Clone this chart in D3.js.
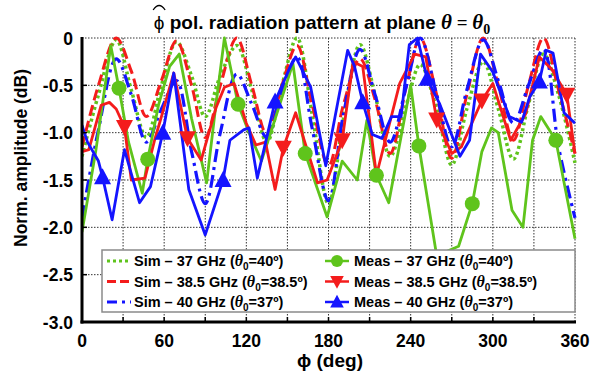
<!DOCTYPE html>
<html>
<head>
<meta charset="utf-8">
<script src="https://cdn.jsdelivr.net/npm/d3@7"></script>
<style>
  body { margin: 0; background: #fff; }
  svg { display: block; font-family: "Liberation Sans", Arial, sans-serif; font-weight: bold; }
</style>
</head>
<body>
<svg id="chart" width="595" height="373"></svg>
<script>
// ====== DATA ======
const xTicks = [0, 60, 120, 180, 240, 300, 360];
const yTicks = [0, -0.5, -1.0, -1.5, -2.0, -2.5, -3.0];

// simulated patterns (read at peaks, troughs and half-way points)
const simAngles = [0, 12, 25, 36, 47, 58, 69, 80, 90, 101, 113, 124, 135, 146, 157, 168, 180,
                   191, 203, 214, 225, 237, 247, 259, 270, 281, 293, 304, 315, 326, 337, 348, 360];
const sim37 = [-1.25, -0.6, -0.02, -0.55, -1.05, -0.5, -0.04, -0.4, -0.83, -0.4, -0.08, -0.55, -1.1, -0.5, 0, -0.8, -1.75,
               -0.85, -0.07, -0.6, -1.25, -0.7, -0.28, -0.75, -1.34, -0.75, -0.25, -0.75, -1.28, -0.7, -0.17, -0.6, -1.32];
const sim385 = [-1.15, -0.5, 0, -0.35, -0.83, -0.45, -0.03, -0.5, -1.05, -0.5, 0, -0.5, -1.02, -0.5, -0.08, -0.7, -1.35,
                -0.7, -0.22, -0.65, -1.22, -0.5, 0, -0.6, -1.27, -0.6, 0, -0.5, -1.08, -0.5, 0, -0.55, -1.22];
const sim40 = [-1.9, -0.97, -0.22, -0.6, -1.1, -0.75, -0.45, -1.2, -1.75, -1.0, -0.38, -0.7, -1.05, -0.55, -0.2, -0.95, -1.72,
               -0.8, -0.12, -0.6, -1.1, -0.5, 0, -0.6, -1.15, -0.55, -0.02, -0.45, -0.9, -0.5, -0.12, -1.15, -1.9];

// measured patterns
const meas37Angles = [0, 10, 21, 27, 34, 44, 48, 56, 64, 71, 80, 91, 97, 104, 114, 122, 131, 140, 154, 163, 179, 190,
                      201, 208, 215, 224, 240, 246, 259, 275, 285, 292, 299, 304, 314, 322, 329, 335, 346, 360];
const meas37 = [-2.05, -1.2, -0.08, -0.53, -1.1, -1.64, -1.28, -0.7, -0.3, -0.17, -0.85, -1.53, -0.8, 0, -0.7, -1.0, -1.3,
                -0.9, -0.27, -1.22, -1.89, -1.3, -1.5, -0.87, -1.45, -1.74, -0.5, -1.14, -2.3, -2.2, -1.75, -1.2, -0.95,
                -1.0, -1.82, -2.0, -1.08, -0.83, -1.08, -2.12];
const meas37Marks = [27, 48, 114, 163, 215, 246, 285, 346];

const meas385Angles = [0, 5, 14, 20, 25, 31, 36, 46, 53, 58, 67, 77, 87, 98, 104, 111, 120, 127, 134, 141, 147, 156, 172,
                       179, 190, 198, 205, 215, 232, 243, 251, 259, 270, 277, 292, 300, 313, 324, 334, 343, 354, 360];
const meas385 = [-1.2, -1.18, -0.71, -0.68, -0.75, -0.94, -1.5, -1.48, -1.08, -0.83, -0.37, -1.06, -1.29, -0.73, -0.52,
                 -0.48, -0.9, -1.13, -1.1, -1.6, -1.16, -0.79, -1.53, -1.5, -1.08, -0.25, -0.3, -1.45, -0.48, -0.17, -0.2,
                 -0.86, -1.22, -1.15, -0.66, -0.48, -1.08, -0.8, -0.2, -0.33, -0.6, -1.22];
const meas385Marks = [31, 77, 147, 190, 259, 292, 354];

const meas40Angles = [0, 4, 12, 15, 22, 31, 42, 50, 59, 67, 78, 90, 103, 108, 118, 122, 128, 141, 151, 156, 167, 178, 194,
                      199, 205, 212, 219, 226, 233, 239, 245, 252, 261, 276, 283, 291, 300, 312, 321, 327, 334, 339, 344, 352, 360];
const meas40 = [-0.92, -1.1, -1.3, -1.47, -1.92, -1.18, -1.74, -1.57, -1.0, -0.37, -1.6, -2.08, -1.5, -1.08, -0.97, -0.95,
                -1.48, -0.67, -0.34, -0.2, -0.52, -1.35, -0.13, -0.3, -0.68, -1.02, -1.06, -0.83, -0.83, -0.07, 0, -0.43,
                -0.69, -1.25, -1.08, -0.17, -0.36, -0.83, -0.89, -0.62, -0.46, -0.13, -0.16, -0.79, -0.9];
const meas40Marks = [15, 59, 103, 141, 205, 252, 334];

const GREEN = '#5fc41c', RED = '#f41c1c', BLUE = '#1414ff';

// ====== SETUP ======
const svg = d3.select('#chart');
const x = d3.scaleLinear().domain([0, 360]).range([82, 575]);
const y = d3.scaleLinear().domain([-3, 0]).range([322, 38]);

svg.append('defs').append('clipPath').attr('id', 'plot-clip')
  .append('rect').attr('x', 82).attr('y', 36).attr('width', 495).attr('height', 288);

// grid
const grid = svg.append('g');
grid.selectAll('.vg').data(d3.range(30, 361, 30)).enter().append('line')
  .attr('x1', d => x(d)).attr('x2', d => x(d)).attr('y1', y(0)).attr('y2', y(-3))
  .attr('stroke', '#333').attr('stroke-width', 1).attr('stroke-dasharray', '1.5,1.5');
grid.selectAll('.hg').data(yTicks.slice(0, -1)).enter().append('line')
  .attr('x1', x(0)).attr('x2', x(360)).attr('y1', d => y(d)).attr('y2', d => y(d))
  .attr('stroke', '#333').attr('stroke-width', 1).attr('stroke-dasharray', '1.5,1.5');

// ====== SERIES ======
const plot = svg.append('g').attr('clip-path', 'url(#plot-clip)');

function simLine(vals) {
  return d3.line().x((d, i) => x(simAngles[i])).y(d => y(d)).curve(d3.curveCatmullRom.alpha(0.5))(vals);
}
function measLine(angles, vals) {
  return d3.line().x((d, i) => x(angles[i])).y(d => y(d))(vals);
}

const series = [
  { d: simLine(sim37), color: GREEN, dash: '3,3', w: 3.5 },
  { d: simLine(sim385), color: RED, dash: '11,5', w: 3 },
  { d: simLine(sim40), color: BLUE, dash: '13,5,3,5', w: 3.2 },
  { d: measLine(meas37Angles, meas37), color: GREEN, dash: null, w: 2.8 },
  { d: measLine(meas385Angles, meas385), color: RED, dash: null, w: 2.8 },
  { d: measLine(meas40Angles, meas40), color: BLUE, dash: null, w: 2.8 }
];
series.forEach(s => {
  plot.append('path').attr('d', s.d).attr('fill', 'none')
    .attr('stroke', s.color).attr('stroke-width', s.w)
    .attr('stroke-dasharray', s.dash).attr('stroke-linejoin', 'round');
});

function marker(g, type, cx, cy, color) {
  if (type === 'circle') {
    g.append('circle').attr('cx', cx).attr('cy', cy).attr('r', 7.5).attr('fill', color);
  } else {
    const s = type === 'down' ? 1 : -1;
    const pts = [[cx - 8.5, cy - 7 * s], [cx + 8.5, cy - 7 * s], [cx, cy + 9 * s]];
    g.append('path').attr('d', 'M' + pts.join('L') + 'Z').attr('fill', color);
  }
}
function marks(angles, vals, list, type, color) {
  list.forEach(a => {
    const i = angles.indexOf(a);
    marker(plot, type, x(a), y(vals[i]), color);
  });
}
marks(meas37Angles, meas37, meas37Marks, 'circle', GREEN);
marks(meas385Angles, meas385, meas385Marks, 'down', RED);
marks(meas40Angles, meas40, meas40Marks, 'up', BLUE);

// ====== AXES ======
const axes = svg.append('g');
axes.append('line').attr('x1', x(0)).attr('x2', x(0)).attr('y1', y(0) - 1).attr('y2', y(-3) + 1.5)
  .attr('stroke', '#000').attr('stroke-width', 3);
axes.append('line').attr('x1', x(0) - 1.5).attr('x2', x(360) + 1).attr('y1', y(-3)).attr('y2', y(-3))
  .attr('stroke', '#000').attr('stroke-width', 3);
axes.selectAll('.xt').data(d3.range(30, 360, 30)).enter().append('line')
  .attr('x1', d => x(d)).attr('x2', d => x(d)).attr('y1', y(-3)).attr('y2', y(-3) - 5)
  .attr('stroke', '#000').attr('stroke-width', 1.5);
axes.selectAll('.yt').data(yTicks.slice(1, -1)).enter().append('line')
  .attr('x1', x(0)).attr('x2', x(0) + 5).attr('y1', d => y(d)).attr('y2', d => y(d))
  .attr('stroke', '#000').attr('stroke-width', 1.5);

axes.selectAll('.xl').data(xTicks).enter().append('text')
  .attr('x', d => x(d)).attr('y', 347).attr('text-anchor', 'middle')
  .attr('font-size', 17.5).text(d => d);
axes.selectAll('.yl').data(yTicks).enter().append('text')
  .attr('x', 73).attr('y', d => y(d) + 6.5).attr('text-anchor', 'end')
  .attr('font-size', 17.5).text(d => d === 0 ? '0' : d.toFixed(1));

svg.append('text').attr('x', 330).attr('y', 367).attr('text-anchor', 'middle')
  .attr('font-size', 19).text('ϕ (deg)');
svg.append('text').attr('transform', 'translate(27,158) rotate(-90)').attr('text-anchor', 'middle')
  .attr('font-size', 17.5).text('Norm. amplitude (dB)');

// title (hat over phi drawn as a small path)
const title = svg.append('text').attr('x', 322).attr('y', 29).attr('text-anchor', 'middle').attr('font-size', 19);
title.append('tspan').attr('font-weight', 'normal').text('ϕ');
title.append('tspan').text(' pol. radiation pattern at plane ');
title.append('tspan').attr('font-family', '"Liberation Serif", serif').attr('font-style', 'italic').attr('font-size', 21).text('θ');
title.append('tspan').attr('font-family', '"Liberation Serif", serif').text(' =  ');
title.append('tspan').attr('font-family', '"Liberation Serif", serif').attr('font-style', 'italic').attr('font-size', 21).text('θ');
title.append('tspan').attr('font-family', '"Liberation Serif", serif').attr('font-size', 14).attr('dy', 5).text('0');

const phiStart = title.node().getStartPositionOfChar(0);
const phiEnd = title.node().getEndPositionOfChar(0);
const hx = (phiStart.x + phiEnd.x) / 2;
svg.append('path')
  .attr('d', `M${hx - 6},10 Q${hx},1 ${hx + 6},10`)
  .attr('fill', 'none').attr('stroke', '#000').attr('stroke-width', 1.3);

// ====== LEGEND ======
const legend = svg.append('g');
legend.append('rect').attr('x', 102).attr('y', 250).attr('width', 473).attr('height', 62)
  .attr('fill', '#fff').attr('stroke', '#8a8a8a').attr('stroke-width', 1.5);

const legendRows = [
  { label: 'Sim – 37 GHz (', th: '=40º)', color: GREEN, dash: '3,3', w: 3, type: null, col: 0 },
  { label: 'Sim – 38.5 GHz (', th: '=38.5º)', color: RED, dash: '9,4', w: 3, type: null, col: 0 },
  { label: 'Sim – 40 GHz (', th: '=37º)', color: BLUE, dash: '10,5,3,5', w: 3, type: null, col: 0 },
  { label: 'Meas – 37 GHz (', th: '=40º)', color: GREEN, dash: null, w: 2.5, type: 'circle', col: 1 },
  { label: 'Meas – 38.5 GHz (', th: '=38.5º)', color: RED, dash: null, w: 2.5, type: 'down', col: 1 },
  { label: 'Meas – 40 GHz (', th: '=37º)', color: BLUE, dash: null, w: 2.5, type: 'up', col: 1 }
];
legendRows.forEach((r, i) => {
  const row = i % 3;
  const ly = 261 + row * 20.5;
  const x0 = r.col === 0 ? 107 : 325;
  const x1 = r.col === 0 ? 131 : 349;
  legend.append('line').attr('x1', x0).attr('x2', x1).attr('y1', ly).attr('y2', ly)
    .attr('stroke', r.color).attr('stroke-width', r.w).attr('stroke-dasharray', r.dash);
  if (r.type) {
    const g = legend.append('g').attr('transform', `translate(${(x0 + x1) / 2},${ly}) scale(0.8)`);
    marker(g, r.type, 0, 0, r.color);
  }
  const t = legend.append('text').attr('x', r.col === 0 ? 134 : 354).attr('y', ly + 5).attr('font-size', 14.5);
  t.append('tspan').text(r.label);
  t.append('tspan').attr('font-family', '"Liberation Serif", serif').attr('font-style', 'italic').attr('font-size', 16).text('θ');
  t.append('tspan').attr('font-size', 10).attr('dy', 4).text('0');
  t.append('tspan').attr('dy', -4).text(r.th);
});
</script>
</body>
</html>
